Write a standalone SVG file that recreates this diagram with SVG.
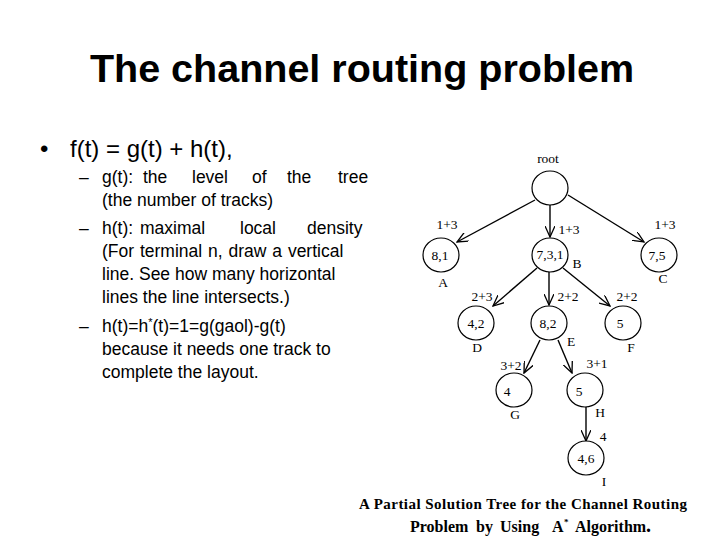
<svg xmlns="http://www.w3.org/2000/svg" width="720" height="540" viewBox="0 0 720 540">
<style>
.title{font-family:"Liberation Sans",Arial,sans-serif;font-weight:bold;font-size:39.5px;fill:#000}
.b1{font-family:"Liberation Sans",Arial,sans-serif;font-size:24px;fill:#000}
.b2{font-family:"Liberation Sans",Arial,sans-serif;font-size:17.5px;fill:#000}
.t{font-family:"Liberation Serif","Times New Roman",serif;font-size:13.5px;fill:#000;text-anchor:middle}
.cap{font-family:"Liberation Serif","Times New Roman",serif;font-weight:bold;font-size:15px;fill:#000}
.cap2{font-family:"Liberation Serif","Times New Roman",serif;font-weight:bold;font-size:16px;fill:#000}
.node{fill:#fff;stroke:#000;stroke-width:1.2}
.edge{stroke:#000;stroke-width:1.4;fill:none;marker-end:url(#arr)}
</style>
<defs>
<marker id="arr" viewBox="0 0 12 10" refX="11" refY="5" markerWidth="12" markerHeight="10" markerUnits="userSpaceOnUse" orient="auto">
<path d="M0,0 L11,5 L0,10" fill="none" stroke="#000" stroke-width="1.3"/>
</marker>
</defs>
<rect width="720" height="540" fill="#fff"/>
<text class="title" x="362" y="82" text-anchor="middle">The channel routing problem</text>
<g id="bullets">
<text class="b1" x="40" y="157">•</text>
<text class="b1" x="70" y="157">f(t) = g(t) + h(t),</text>
<text class="b2" x="79" y="183">–</text>
<text class="b2" y="183"><tspan x="102">g(t):</tspan><tspan x="143">the</tspan><tspan x="192">level</tspan><tspan x="252">of</tspan><tspan x="287">the</tspan><tspan x="338">tree</tspan></text>
<text class="b2" x="102" y="206">(the number of tracks)</text>
<text class="b2" x="79" y="234">–</text>
<text class="b2" y="234"><tspan x="102">h(t):</tspan><tspan x="140">maximal</tspan><tspan x="240">local</tspan><tspan x="307">density</tspan></text>
<text class="b2" x="102" y="257" word-spacing="1">(For terminal n, draw a vertical</text>
<text class="b2" x="102" y="280">line. See how many horizontal</text>
<text class="b2" x="102" y="303">lines the line intersects.)</text>
<text class="b2" x="79" y="332">–</text>
<text class="b2" x="102" y="332">h(t)=h<tspan font-size="11" dy="-6">*</tspan><tspan dy="6">(t)=1=g(gaol)-g(t)</tspan></text>
<text class="b2" x="102" y="355">because it needs one track to</text>
<text class="b2" x="102" y="378">complete the layout.</text>
</g>
<g id="connectors">
<line class="edge" x1="535" y1="200" x2="457" y2="242"/>
<line class="edge" x1="550" y1="205" x2="550" y2="237"/>
<line class="edge" x1="568" y1="195" x2="644" y2="242"/>
<line class="edge" x1="537" y1="268" x2="493" y2="306"/>
<line class="edge" x1="549" y1="272" x2="549" y2="305"/>
<line class="edge" x1="563" y1="268" x2="610" y2="306"/>
<line class="edge" x1="540" y1="340" x2="524" y2="373"/>
<line class="edge" x1="558" y1="340" x2="572" y2="373"/>
<line class="edge" x1="586" y1="407" x2="586" y2="441"/>
</g>
<g id="root"><ellipse class="node" cx="550" cy="188" rx="18" ry="17"/><text class="t" x="548" y="163">root</text></g>
<g id="A"><ellipse class="node" cx="441" cy="255" rx="18" ry="17"/><text class="t" x="440" y="260">8,1</text><text class="t" x="443" y="287">A</text><text class="t" x="447" y="229">1+3</text></g>
<g id="B"><ellipse class="node" cx="550" cy="255" rx="18" ry="17"/><text class="t" x="550" y="259">7,3,1</text><text class="t" x="577" y="268">B</text><text class="t" x="569" y="234">1+3</text></g>
<g id="C"><ellipse class="node" cx="659" cy="255" rx="18" ry="17"/><text class="t" x="657" y="260">7,5</text><text class="t" x="663" y="283">C</text><text class="t" x="665" y="229">1+3</text></g>
<g id="D"><ellipse class="node" cx="476" cy="323" rx="18" ry="17"/><text class="t" x="476" y="328">4,2</text><text class="t" x="477" y="352">D</text><text class="t" x="482" y="301">2+3</text></g>
<g id="E"><ellipse class="node" cx="549" cy="323" rx="18" ry="17"/><text class="t" x="548" y="328">8,2</text><text class="t" x="571" y="346">E</text><text class="t" x="568" y="301">2+2</text></g>
<g id="F"><ellipse class="node" cx="623" cy="323" rx="18" ry="17"/><text class="t" x="620" y="328">5</text><text class="t" x="631" y="352">F</text><text class="t" x="627" y="301">2+2</text></g>
<g id="G"><ellipse class="node" cx="514" cy="390" rx="18" ry="17"/><text class="t" x="507" y="396">4</text><text class="t" x="515" y="419">G</text><text class="t" x="511" y="370">3+2</text></g>
<g id="H"><ellipse class="node" cx="585" cy="390" rx="18" ry="17"/><text class="t" x="579" y="396">5</text><text class="t" x="600" y="417">H</text><text class="t" x="597" y="368">3+1</text></g>
<g id="I"><ellipse class="node" cx="586" cy="458" rx="18" ry="17"/><text class="t" x="586" y="463">4,6</text><text class="t" x="604" y="486">I</text><text class="t" x="603" y="441">4</text></g>
<g id="caption">
<text class="cap" x="359" y="509" textLength="328" lengthAdjust="spacing">A Partial Solution Tree for the Channel Routing</text>
<text class="cap2" y="532"><tspan x="410">Problem</tspan><tspan x="476">by</tspan><tspan x="500">Using</tspan><tspan x="552">A</tspan><tspan x="564" y="525" font-size="9">*</tspan><tspan x="575" y="532">Algorithm</tspan><tspan x="646" font-size="20">.</tspan></text>
</g>
</svg>
